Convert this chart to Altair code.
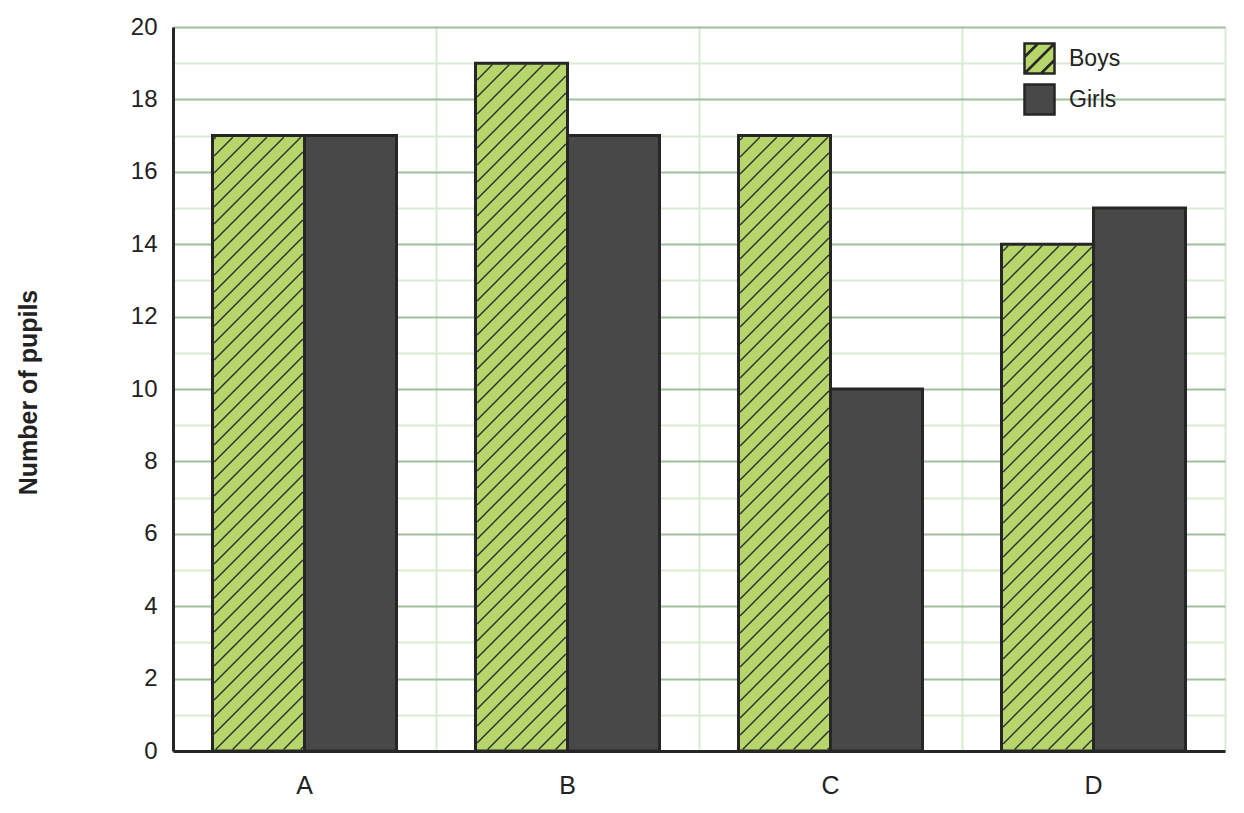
import math
import altair as alt
import pandas as pd

# ---- data ----
schools = ["A", "B", "C", "D"]
series = ["Boys", "Girls"]
boys = [17, 19, 17, 14]
girls = [17, 17, 10, 15]
y_values = list(range(0, 21))

# ---- layout / style constants ----
W, H = 1052, 724
YMAX = 20
OFFSET_PAD = 0.4293
HATCH_SPACING = 17
INSET = 1.6
FONT = "Liberation Sans"
TXT = "#222222"
GREEN = "#b6d66c"
GREY = "#484848"
EDGE = "#262626"

rows = []
for s, b, g in zip(schools, boys, girls):
    rows.append({"School": s, "Gender": "Boys", "Pupils": b})
    rows.append({"School": s, "Gender": "Girls", "Pupils": g})
df = pd.DataFrame(rows)

# ---- hatch segments for the Boys bars (derived from the bar values) ----
step_frac = 1.0 / (2 + 2 * OFFSET_PAD)
start_frac = OFFSET_PAD * step_frac
band_px = W / len(schools)
segs = []
for i, b in enumerate(boys):
    x0 = (i + start_frac) * band_px + INSET
    x1 = (i + start_frac + step_frac) * band_px - INSET
    ytop = H - b / YMAX * H + INSET
    ybot = H - INSET
    c = math.ceil((x0 + ytop) / HATCH_SPACING) * HATCH_SPACING
    while c < x1 + ybot:
        xa = max(x0, c - ybot)
        xb = min(x1, c - ytop)
        if xb > xa:
            segs.append({
                "hx": xa / band_px, "hy": (H - (c - xa)) / H * YMAX,
                "hx2": xb / band_px, "hy2": (H - (c - xb)) / H * YMAX,
            })
        c += HATCH_SPACING
hatch_df = pd.DataFrame(segs)

yaxis = alt.Axis(
    title="Number of pupils",
    values=y_values,
    labelExpr="datum.value % 2 === 0 ? datum.label : ''",
    grid=True,
    gridColor=alt.condition("datum.value % 2 === 0", alt.value("#9fc09c"), alt.value("#dbead2")),
    gridWidth=2,
    ticks=False,
    labelPadding=16,
    labelFontSize=24,
    labelColor=TXT,
    labelFont=FONT,
    domainColor=EDGE,
    domainWidth=3,
    titleFont=FONT,
    titleFontSize=25,
    titleFontWeight="bold",
    titleColor=TXT,
    titleX=-145,
    titleY=365,
    titleAngle=-90,
    titleAlign="center",
    titleBaseline="middle",
)
yscale = alt.Scale(domain=[0, YMAX], nice=False)
fill_scale = alt.Scale(domain=series, range=[GREEN, GREY])

legend = alt.Legend(
    title=None,
    orient="none",
    legendX=850,
    legendY=15,
    padding=0,
    symbolSize=900,
    symbolStrokeColor=EDGE,
    symbolStrokeWidth=2.5,
    labelFontSize=23,
    labelFont=FONT,
    labelColor=TXT,
    labelOffset=13,
    rowPadding=0,
)

bars = alt.Chart(df).mark_bar(stroke=EDGE, strokeWidth=3).encode(
    x=alt.X("School:N", sort=schools,
            scale=alt.Scale(paddingInner=0, paddingOuter=0),
            axis=alt.Axis(title=None, ticks=False, labelAngle=0, labelFontSize=25,
                          labelColor=TXT, labelFont=FONT, labelPadding=22,
                          domainColor=EDGE, domainWidth=3, grid=False)),
    xOffset=alt.XOffset("Gender:N", sort=series,
                        scale=alt.Scale(paddingInner=0, paddingOuter=OFFSET_PAD)),
    y=alt.Y("Pupils:Q", scale=yscale, axis=yaxis),
    fill=alt.Fill("Gender:N", scale=fill_scale, legend=legend),
)

hatch = alt.Chart(hatch_df).mark_rule(color="#2e2e2e", strokeWidth=1.4).encode(
    x=alt.X("hx:Q", scale=alt.Scale(domain=[0, len(schools)], nice=False, zero=False),
            axis=alt.Axis(values=list(range(len(schools) + 1)), grid=True,
                          gridColor="#dbead2", gridWidth=2, labels=False, ticks=False,
                          domain=False, title=None, orient="top")),
    x2="hx2:Q",
    y=alt.Y("hy:Q", scale=yscale, axis=yaxis),
    y2="hy2:Q",
)

boys_path = "M-1,-1H1V1H-1Z M-1,-0.1L-0.1,-1 M-1,1L1,-1 M0.1,1L1,0.1"
legend_layer = alt.Chart(df).transform_filter("false").mark_point(
    filled=True, opacity=1, stroke=EDGE, strokeWidth=2.5
).encode(
    fill=alt.Fill("Gender:N", scale=fill_scale, legend=legend),
    shape=alt.Shape("Gender:N", scale=alt.Scale(domain=series, range=[boys_path, "square"]),
                    legend=legend),
)

chart = alt.layer(bars, hatch, legend_layer).resolve_scale(x="independent").properties(
    width=W,
    height=H,
    autosize=alt.AutoSizeParams(type="none"),
    padding={"left": 165, "top": 19, "right": 11, "bottom": 55},
).configure_view(stroke=None).configure(background="white")

chart.save("out.html", embed_options={"renderer": "svg", "actions": False})
